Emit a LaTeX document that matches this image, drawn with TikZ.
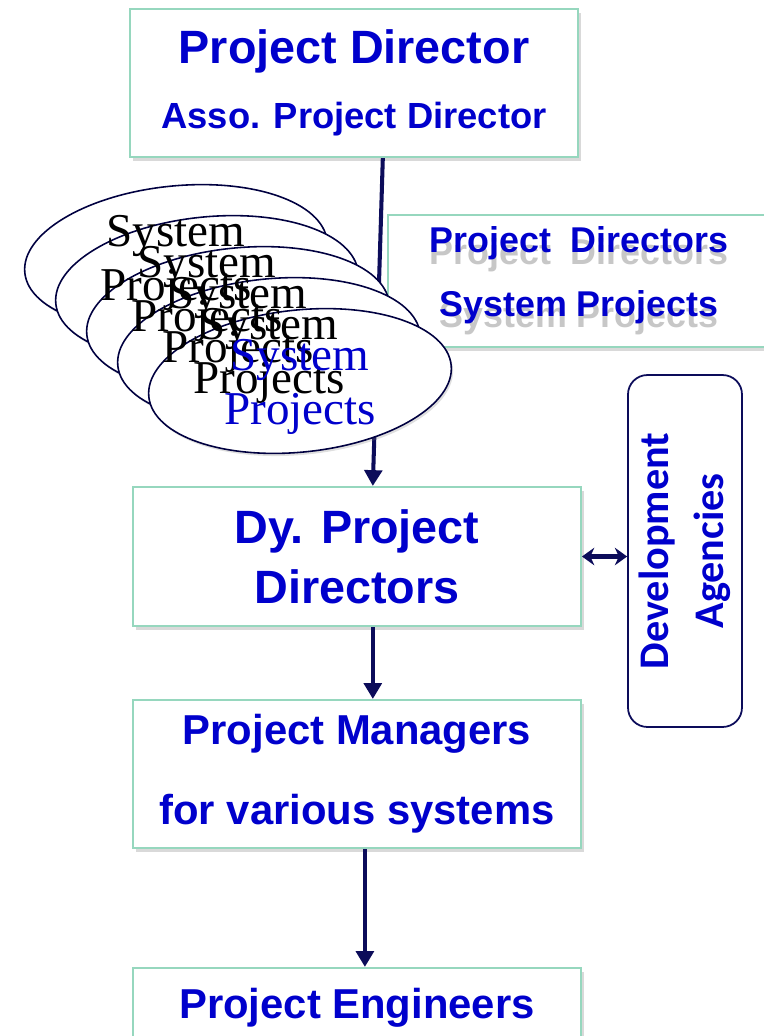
\documentclass[tikz,border=0pt]{standalone}
\usepackage{fontspec}
\setmainfont{Liberation Sans}
\newfontfamily\prjserif{Liberation Serif}
\newfontfamily\agencyfont{Carlito}
\usetikzlibrary{arrows.meta,shadows}

\definecolor{txtblue}{RGB}{0,0,204}
\definecolor{boxedge}{RGB}{150,215,190}
\definecolor{navy}{RGB}{12,12,90}

% text with a soft grey copy below it
\newcommand{\ghost}[3]{\leavevmode\rlap{\hspace{#1}\raisebox{-#2}{\textcolor{black!22}{#3}}}#3}

\begin{document}
\begin{tikzpicture}[
        x=0.02cm, y=-0.02cm,
        box/.style={draw=boxedge, line width=1.2pt, fill=white, inner sep=0pt,
                    text=txtblue, align=center,
                    drop shadow={shadow xshift=1.5pt, shadow yshift=-2pt, opacity=0.3}},
        ell/.style={draw=black!75!blue, line width=0.9pt, fill=white,
                    drop shadow={shadow xshift=1pt, shadow yshift=-1.5pt, opacity=0.25}},
        elab/.style={font=\prjserif\fontsize{26.8}{31.2}\selectfont, align=center,
                     inner sep=0pt, yshift=-3.4pt},
        arr/.style={draw=navy, line width=2.3pt, -{Triangle[width=10pt,length=9pt]}},
        darr/.style={draw=navy, line width=2.6pt,
                     {Stealth[width=10pt,length=7pt]}-{Stealth[width=10pt,length=7pt]}},
        agency/.style={draw=navy, line width=1pt, rounded corners=11pt, fill=white,
                       text=txtblue, align=center, inner sep=0pt}
    ]

    \clip (0,0) rectangle (764,1036);

    % coordinates
    \coordinate (e4) at (176,257);
    \coordinate (e3) at (207,288);
    \coordinate (e2) at (238,319);
    \coordinate (e1) at (269,350);
    \coordinate (e0) at (300,381);

    % boxes
    \node[box, minimum width=8.96cm, minimum height=2.96cm,
          font=\bfseries\fontsize{26.6}{36.8}\selectfont] (pd) at (354,83)
        {Project Director\\
         {\fontsize{20.7}{24}\selectfont Asso. Project Director}};

    \node[box, minimum width=7.64cm, minimum height=2.64cm,
          font=\bfseries\fontsize{20.4}{36.3}\selectfont] (pds) at (579,281)
        {\ghost{0pt}{6.5pt}{Project\ \ Directors}\\
         \ghost{0pt}{6.5pt}{System Projects}};

    \node[box, minimum width=8.96cm, minimum height=2.78cm,
          font=\bfseries\fontsize{26.6}{34}\selectfont] (dpd) at (357,556.5)
        {Dy. Project\\Directors};

    \node[box, minimum width=8.96cm, minimum height=2.96cm,
          font=\bfseries\fontsize{23.8}{45.4}\selectfont] (pm) at (357,774)
        {Project Managers\\for various systems};

    \node[box, minimum width=8.96cm, minimum height=1.6cm,
          font=\bfseries\fontsize{23.8}{28}\selectfont] (pe) at (357,1008)
        {Project Engineers};

    \node[agency, rotate=90, minimum width=7.04cm, minimum height=2.28cm,
          font=\agencyfont\bfseries\fontsize{24}{31.2}\selectfont] (da) at (685,551)
        {Development\\Agencies};

    % connectors
    \draw[arr] ([xshift=16.4pt]pd.south) -- ([xshift=9pt]dpd.north);
    \draw[arr] ([xshift=9pt]dpd.south) -- ([xshift=9pt]pm.north);
    \draw[arr] ([xshift=4.5pt]pm.south) -- ([xshift=4.5pt]pe.north);
    \draw[darr] (dpd.east) -- (dpd.east -| da.north);

    % system project ellipses
    \draw[ell, rotate around={6:(e4)}] (e4) ellipse (152 and 71);
    \draw[ell, rotate around={6:(e3)}] (e3) ellipse (152 and 71);
    \draw[ell, rotate around={6:(e2)}] (e2) ellipse (152 and 71);
    \draw[ell, rotate around={6:(e1)}] (e1) ellipse (152 and 71);
    \draw[ell, rotate around={6:(e0)}] (e0) ellipse (152 and 71);

    \node[elab] (sp4) at (e4) {System\\Projects};
    \node[elab] (sp3) at (e3) {System\\Projects};
    \node[elab] (sp2) at (e2) {System\\Projects};
    \node[elab] (sp1) at (e1) {System\\Projects};
    \node[elab, text=txtblue] (sp0) at (e0) {System\\Projects};
\end{tikzpicture}
\end{document}
